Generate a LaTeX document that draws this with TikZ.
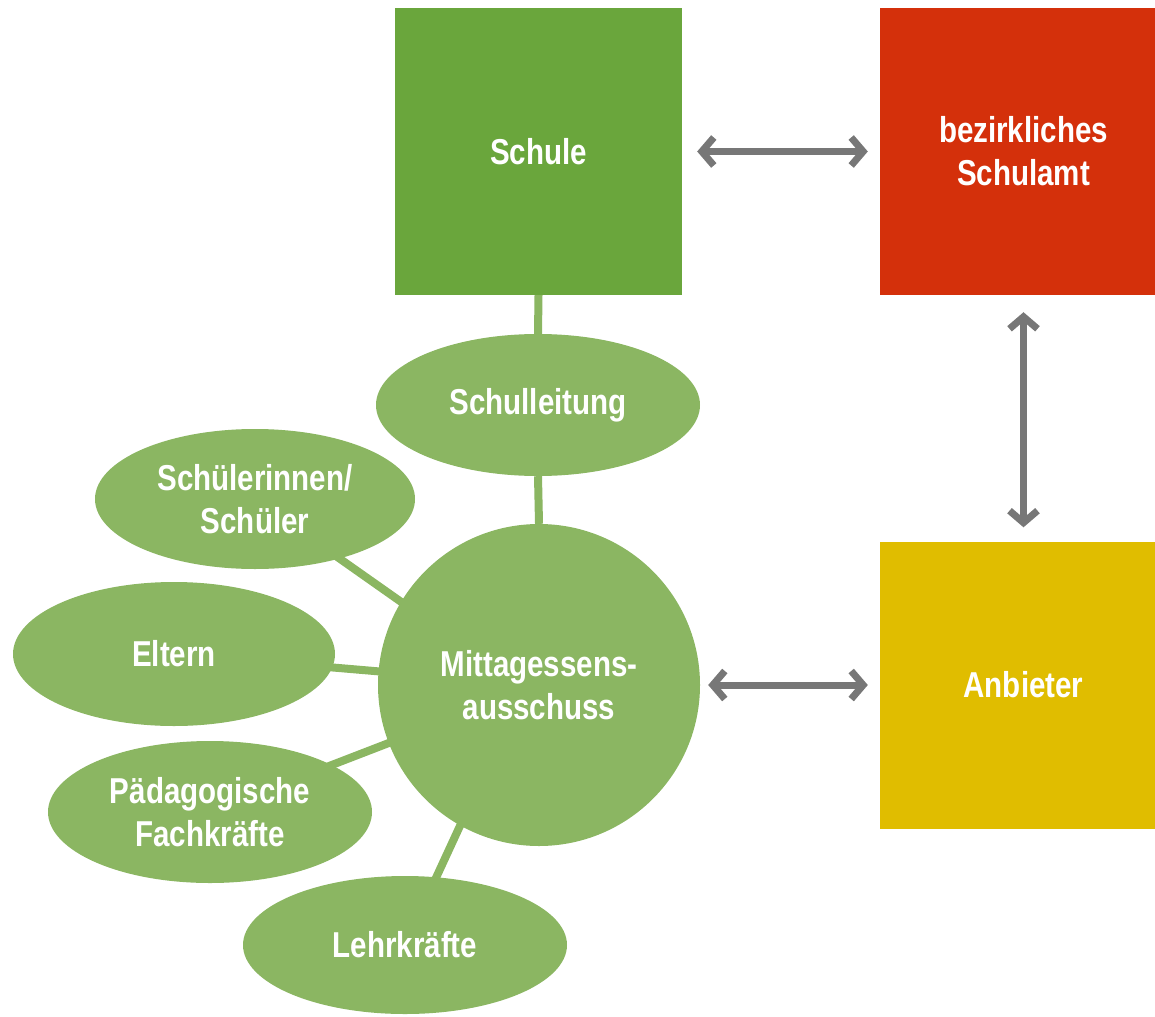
\documentclass[tikz,border=0pt]{standalone}
\usepackage{fontspec}
\setmainfont{Liberation Sans}[FakeStretch=0.82]
\usetikzlibrary{shapes.geometric,arrows.meta}
\definecolor{boxgreen}{HTML}{6AA63C}
\definecolor{lgreen}{HTML}{8BB662}
\definecolor{boxred}{HTML}{D4300B}
\definecolor{boxyellow}{HTML}{E0BD00}
\definecolor{arrgray}{HTML}{777777}
\pgfdeclarelayer{bg}
\pgfsetlayers{bg,main}
\tikzset{
  lbl/.style={text=white, font=\fontsize{36}{43}\selectfont\bfseries, align=center, inner sep=0pt},
  sqbox/.style={lbl, rectangle, minimum width=287pt, minimum height=287pt},
  oval/.style={lbl, ellipse, fill=lgreen, minimum width=324pt},
  link/.style={draw=lgreen, line width=8pt},
  dblarrow/.style={draw=arrgray, line width=7pt, {Straight Barb[length=12pt,width=28pt]}-{Straight Barb[length=12pt,width=28pt]}}
}
\begin{document}
\begin{tikzpicture}[x=1pt,y=-1pt]
\useasboundingbox (0,0) rectangle (1155,1016);
\clip (0,0) rectangle (1155,1016);
% boxes
\node[sqbox, fill=boxgreen] (schule) at (538.5,151.5) {Schule};
\node[sqbox, fill=boxred] (amt) at (1023.5,151.5) {bezirkliches\\Schulamt};
\node[sqbox, fill=boxyellow] (anb) at (1023.5,685) {Anbieter};
% center circle and ellipses
\node[oval, minimum width=322pt, minimum height=322pt] (mit) at (539,685) {Mittagessens-\\ausschuss};
\node[oval, minimum height=142pt] (leit) at (538,405) {Schulleitung};
\node[oval, minimum width=320pt, minimum height=140pt] (sus) at (255,499) {Schülerinnen/\\Schüler};
\node[oval, minimum width=322pt, minimum height=144pt] (elt) at (174,654) {Eltern};
\node[oval, minimum height=142pt] (paed) at (210,812) {Pädagogische\\Fachkräfte};
\node[oval, minimum height=138pt] (lehr) at (405,945) {Lehrkräfte};
% links (behind shapes)
\begin{pgfonlayer}{bg}
\draw[link] (schule.south) -- (leit.north);
\draw[link] (leit.south) -- (mit.north);
\draw[link] (sus.center) -- ([yshift=-14pt]mit.center);
\draw[link] (elt.center) -- (mit.center);
\draw[link] (paed.center) -- (mit.center);
\draw[link] (lehr.center) -- ([xshift=-14pt]mit.center);
\end{pgfonlayer}
% arrows
\draw[dblarrow, shorten <=15pt, shorten >=12pt] (schule.east) -- (amt.west);
\draw[dblarrow, shorten <=17pt, shorten >=14pt] (amt.south) -- (anb.north);
\draw[dblarrow, shorten <=8pt, shorten >=12pt] (mit.east) -- (anb.west);
\end{tikzpicture}
\end{document}
